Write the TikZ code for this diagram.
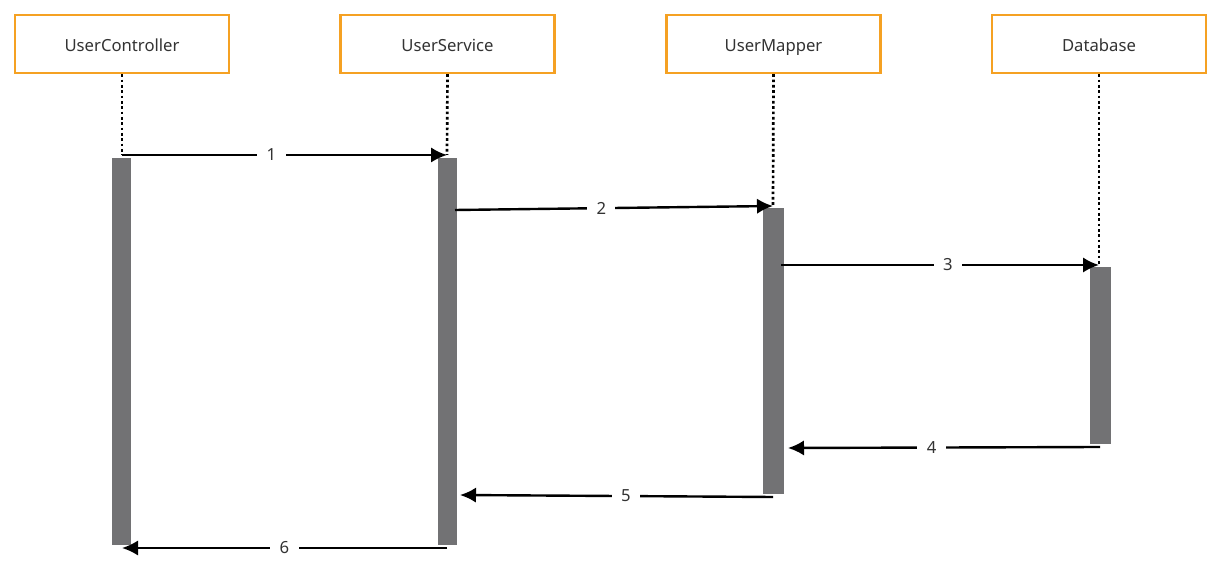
\documentclass[tikz,border=0pt]{standalone}
\usepackage{fontspec}
\setmainfont{Noto Sans}
\usetikzlibrary{arrows.meta}
\definecolor{boxorange}{HTML}{F5A123}
\definecolor{bargray}{HTML}{727274}
\definecolor{textgray}{HTML}{333333}
\tikzset{
    actor/.style={draw=boxorange, line width=1.8pt, fill=white, minimum width=160.5pt,
        minimum height=43.5pt, text=textgray, text height=2.1ex, text depth=0ex,
        font=\fontsize{12.5}{14}\selectfont},
    lifeline/.style={line width=2pt, dash pattern=on 2pt off 2pt},
    msg/.style={line width=1.8pt, -{Latex[length=12pt,width=11.5pt]}},
    msglabel/.style={fill=white, text=textgray, inner xsep=7pt, inner ysep=1pt,
        font=\fontsize{12.5}{14}\selectfont},
}
\begin{document}
\begin{tikzpicture}[x=0.75pt, y=-0.75pt]
    \useasboundingbox (0,0) rectangle (1221,580);

    % participants
    \node[actor] (ctrl) at (122,44) {UserController};
    \node[actor] (svc)  at (447.5,44) {UserService};
    \node[actor] (map)  at (773.5,44) {UserMapper};
    \node[actor] (db)   at (1099,44) {Database};

    % activation bars
    \fill[bargray] (112,158) rectangle (131,545);
    \fill[bargray] (438,158) rectangle (457,545);
    \fill[bargray] (763,208) rectangle (784,494);
    \fill[bargray] (1090,267) rectangle (1111,444);

    % lifelines
    \coordinate (c1) at (122,155);
    \coordinate (s1) at (447,155);
    \coordinate (s2) at (455,210);
    \coordinate (m2) at (773,206);
    \coordinate (m3) at (781,265);
    \coordinate (d3) at (1099,265);
    \draw[lifeline] (ctrl.south) -- (c1);
    \draw[lifeline] (svc.south) -- (s1);
    \draw[lifeline] (map.south) -- (m2);
    \draw[lifeline] (db.south) -- (d3);

    % messages
    \draw[msg] (c1) -- node[msglabel, pos=0.46] {1} (s1);
    \draw[msg] (s2) -- node[msglabel, pos=0.46] {2} (m2);
    \draw[msg] (m3) -- node[msglabel, pos=0.525] {3} (d3);

    \coordinate (d4) at (1100,447);
    \coordinate (m4) at (788,448);
    \coordinate (m5) at (773,497);
    \coordinate (s5) at (460,495);
    \coordinate (s6) at (447,548);
    \coordinate (c6) at (122,548);
    \draw[msg] (d4) -- node[msglabel, pos=0.54] {4} (m4);
    \draw[msg] (m5) -- node[msglabel, pos=0.47] {5} (s5);
    \draw[msg] (s6) -- node[msglabel, pos=0.5] {6} (c6);
\end{tikzpicture}
\end{document}
